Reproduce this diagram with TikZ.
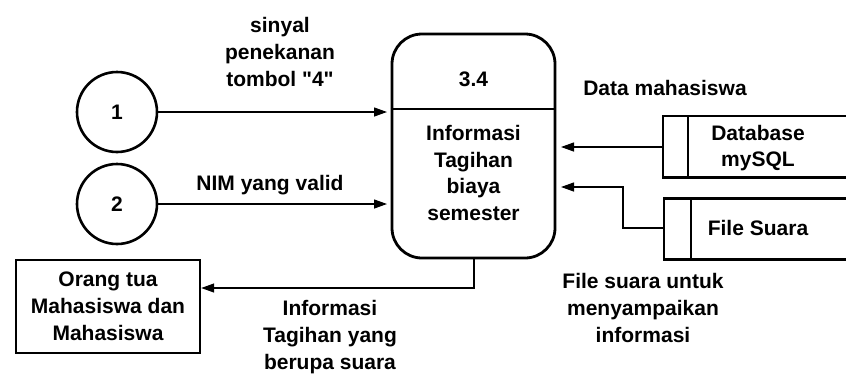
\documentclass[tikz,border=0pt]{standalone}
\usepackage{fontspec}
\setmainfont{Liberation Sans}[Ligatures=TeXOff]
\usetikzlibrary{arrows.meta}
\begin{document}
\begin{tikzpicture}[x=1pt,y=-1pt,
  every node/.style={font=\fontsize{21}{26.8}\selectfont\bfseries, inner sep=0pt, align=center},
  term/.style={draw, circle, line width=2.6pt, minimum size=80pt},
  ext/.style={draw, line width=2.4pt, minimum width=184pt, minimum height=93pt},
  proc/.style={draw, line width=2.8pt, rounded corners=30pt, minimum width=163pt, minimum height=224pt},
  store/.style={minimum width=183pt, minimum height=61pt},
  storeline/.style={line width=2.6pt},
  flow/.style={line width=1.3pt, -{Triangle[length=13pt, width=9pt]}},
  lbl/.style={}
]
\useasboundingbox (0,0) rectangle (846,376);

% external entities
\node[term] (c1) at (117,112) {1};
\node[term] (c2) at (117,204) {2};
\node[ext] (ot) at (108,306.5) {Orang tua\\Mahasiswa dan\\Mahasiswa};

% process 3.4
\node[proc] (p) at (473.5,146) {};
\draw[line width=2.6pt] (p.west |- 0,109) -- (p.east |- 0,109);
\node (pid) at (473.5,79) {3.4};
\node (ptext) at (473.5,173) {Informasi\\Tagihan\\biaya\\semester};

% data stores (open on the right)
\node[store] (db) at (754.5,146.5) {};
\draw[storeline] (db.north east) -- (db.north west) -- (db.south west) -- (db.south east);
\draw[storeline] ([xshift=25pt]db.north west) -- ([xshift=25pt]db.south west);
\node (dbt) at (758,148) {Database\\mySQL};

\node[store] (fs) at (755.5,229) {};
\draw[storeline] (fs.north east) -- (fs.north west) -- (fs.south west) -- (fs.south east);
\draw[storeline] ([xshift=27pt]fs.north west) -- ([xshift=27pt]fs.south west);
\node (fst) at (758,228) {File Suara};

% flows
\coordinate (in1) at (387,112);
\coordinate (in2) at (387,204);
\coordinate (in3) at (561,147);
\coordinate (in4) at (561,187);
\draw[flow] (c1) -- (in1);
\draw[flow] (c2) -- (in2);
\draw[flow] (db.west |- in3) -- (in3);
\coordinate (fsb) at (623,228);
\draw[flow] (fs.west |- fsb) -- (fsb) |- (in4);
\coordinate (pb) at (474,258);
\draw[flow] (pb) |- (ot.east |- 0,288);

% flow labels
\node[lbl] at (280,52) {sinyal\\penekanan\\tombol "4"};
\node[lbl] at (270,185) {NIM yang valid};
\node[lbl] at (665,88) {Data mahasiswa};
\node[lbl] at (330,337) {Informasi\\Tagihan yang\\berupa suara};
\node[lbl] at (643,308) {File suara untuk\\menyampaikan\\informasi};
\end{tikzpicture}
\end{document}
